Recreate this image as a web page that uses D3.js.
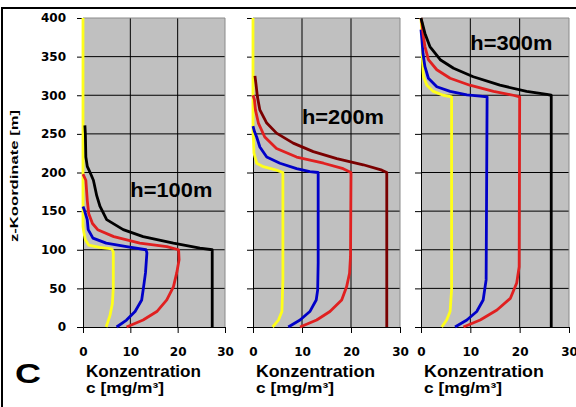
<!DOCTYPE html>
<html>
<head>
<meta charset="utf-8">
<script src="https://cdn.jsdelivr.net/npm/d3@7"></script>
<style>
  body { margin: 0; background: #fff; }
  svg text { font-family: "Liberation Sans", Arial, sans-serif; font-weight: bold; fill: #000; }
  .tick text { font-family: "DejaVu Sans", sans-serif; font-size: 12px; font-weight: bold; }
</style>
</head>
<body>
<div id="viz"></div>
<script>
// Tick labels
const zTicks = [0, 50, 100, 150, 200, 250, 300, 350, 400];
const cTicks = [0, 10, 20, 30];

// Panel labels (stack height) and where they sit, in data units
const hLabels = ["h=100m", "h=200m", "h=300m"];
const hLabelC = [10, 10, 10];
const hLabelZ = [168, 263, 358];

// Profiles as [c (mg/m3), z (m)]
// h = 100 m
const yellow100 = [[4.9,0],[5.7,15],[6.2,30],[6.4,50],[6.4,97],[6.1,101],[3.5,103],[1.2,106],[0.5,113],[0.2,122],[0,130],[0,400]];
const blue100 = [[7.1,0],[9.2,9],[11,20],[12.4,35],[12.8,52],[13.2,70],[13.5,96],[13.3,100],[9.2,104],[4.9,108.5],[2.1,115],[1.1,126],[0.9,139],[0.3,151],[0,156]];
const red100 = [[9.2,0],[12.7,9],[15.6,20],[17.7,35],[19.1,52],[19.8,70],[20.3,87],[20.2,100],[17.7,104],[12,108.5],[6.5,117],[3.1,126],[2,134],[1.2,147],[0.9,164],[0.6,190],[0,198]];
const black100 = [[27.3,0],[27.3,100],[24.7,102],[19.1,108.5],[12.7,117],[8.5,126],[5,139],[3.6,156],[2.9,170],[2.2,190],[1.5,200],[0.9,208],[0.6,220],[0.5,250],[0.4,261]];
// h = 200 m
const yellow200 = [[4,0],[5.2,9],[5.9,20],[6.1,61],[6.1,200],[4.8,203],[2.1,207.5],[0.75,212],[0.2,225],[0.1,242],[0,250],[0,400]];
const blue200 = [[7.2,0],[9.6,9],[11.6,20],[12.9,35],[13.2,48],[13.3,83],[13.3,200],[11.6,201],[8.9,205],[5.5,212],[2.8,220],[1.4,233],[0.75,246],[0.3,253],[0,260]];
const red200 = [[9.6,0],[13,9],[15.7,20],[18.1,35],[19.1,52],[19.7,69.5],[19.9,91],[20,200],[18.4,205],[14.4,212],[8.9,220],[4.8,231],[2.4,246],[1.1,264],[0.5,281],[0.3,294],[0,300]];
const darkred200 = [[27.3,0],[27.3,200],[26.3,203],[22.5,210],[17.1,218],[12.3,227],[8.2,238],[4.8,251],[2.8,264],[1.4,281],[0.9,298],[0.6,315],[0.4,325]];
// h = 300 m
const yellow300 = [[4.2,0],[5.2,9],[5.9,20],[6.2,48],[6.2,298],[4.5,300],[2.5,305],[1.2,313],[0.5,324],[0.3,346],[0.2,380],[0,400]];
const blue300 = [[6.9,0],[9.3,9],[11.3,20],[12.6,35],[13.2,61],[13.4,298],[12,299],[9.3,300.5],[5.9,305],[3.2,311],[1.5,322],[0.8,337],[0.4,354],[0.2,371],[0,385]];
const red300 = [[8.6,0],[12,9],[15.4,22],[18.1,37],[19.4,57],[19.9,78],[20,298],[18.7,300],[14.7,305],[9.9,313],[5.9,322],[3.2,333],[1.5,346],[0.8,363],[0.4,380],[0.2,393],[0,400]];
const black300 = [[26.4,0],[26.4,300],[25.5,301],[21.4,305],[16,313],[10.6,324],[6.6,335],[3.9,346],[1.8,363],[0.8,380],[0.2,395],[0,400]];

// Geometry
const width = 576;
const height = 407;
const plotTop = 18;
const plotBottom = 327;
const panelX = [[83, 225], [253, 400], [421, 569]];

const cYellow = "#ffff1a", cBlue = "#0000c8", cRed = "#e02020", cBlack = "#000", cDark = "#7a0000";
const panels = [
  {series: [[yellow100, cYellow], [blue100, cBlue], [red100, cRed], [black100, cBlack]]},
  {series: [[yellow200, cYellow], [blue200, cBlue], [red200, cRed], [darkred200, cDark]]},
  {series: [[yellow300, cYellow], [blue300, cBlue], [red300, cRed], [black300, cBlack]]}
];

const svg = d3.select("#viz").append("svg")
  .attr("width", width)
  .attr("height", height);

// outer frame (only top and left show in the crop)
svg.append("path")
  .attr("d", "M2," + height + "V8H" + width)
  .attr("fill", "none")
  .attr("stroke", "#000")
  .attr("stroke-width", 2);

const yScale = d3.scaleLinear().domain([0, 400]).range([plotBottom, plotTop]);

panels.forEach((p, i) => {
  const xScale = d3.scaleLinear().domain([0, 30]).range(panelX[i]);
  const g = svg.append("g");

  g.append("rect")
    .attr("x", xScale(0)).attr("y", yScale(400))
    .attr("width", xScale(30) - xScale(0))
    .attr("height", yScale(0) - yScale(400))
    .attr("fill", "#c0c0c0");

  // grid
  g.selectAll(".hgrid").data(zTicks.filter(d => d > 0 && d < 400))
    .enter().append("line")
    .attr("x1", xScale(0)).attr("x2", xScale(30))
    .attr("y1", d => yScale(d)).attr("y2", d => yScale(d))
    .attr("stroke", "#000").attr("stroke-width", 1);
  g.selectAll(".vgrid").data(cTicks.filter(d => d > 0 && d < 30))
    .enter().append("line")
    .attr("x1", d => xScale(d)).attr("x2", d => xScale(d))
    .attr("y1", yScale(0)).attr("y2", yScale(400))
    .attr("stroke", "#000").attr("stroke-width", 1);

  // grey top and right edge
  g.append("path")
    .attr("d", "M" + xScale(0) + "," + yScale(400) + "H" + xScale(30) + "V" + yScale(0))
    .attr("fill", "none").attr("stroke", "#8a8a8a").attr("stroke-width", 1);

  // axes
  g.append("g")
    .attr("transform", "translate(0," + plotBottom + ")")
    .call(d3.axisBottom(xScale).tickValues(cTicks).tickSize(6).tickSizeOuter(0).tickPadding(14));
  g.append("g")
    .attr("transform", "translate(" + panelX[i][0] + ",0)")
    .call(d3.axisLeft(yScale).tickValues(zTicks).tickSize(6).tickSizeOuter(0).tickPadding(11)
      .tickFormat(i === 0 ? d => d : () => ""));

  // profiles
  const line = d3.line()
    .x(d => xScale(d[0]))
    .y(d => yScale(d[1]));
  p.series.forEach(s => {
    g.append("path")
      .attr("d", line(s[0]))
      .attr("fill", "none")
      .attr("stroke", s[1])
      .attr("stroke-width", 2.8)
      .attr("stroke-linejoin", "round");
  });

  // h label
  g.append("text")
    .attr("x", xScale(hLabelC[i]))
    .attr("y", yScale(hLabelZ[i]))
    .attr("font-size", 20)
    .attr("textLength", 82)
    .attr("lengthAdjust", "spacingAndGlyphs")
    .text(hLabels[i]);

  // x axis title
  const w = xScale(30) - xScale(0);
  g.append("text")
    .attr("x", xScale(0) + 3).attr("y", 377)
    .attr("font-size", 16)
    .attr("textLength", w * 0.81)
    .attr("lengthAdjust", "spacingAndGlyphs")
    .text("Konzentration");
  g.append("text")
    .attr("x", xScale(0) + 3).attr("y", 393)
    .attr("font-size", 14.5)
    .attr("textLength", 78)
    .attr("lengthAdjust", "spacingAndGlyphs")
    .text("c [mg/m³]");
});

svg.selectAll(".domain").attr("stroke", "#000");
svg.selectAll(".tick line").attr("stroke", "#000");

// y axis title
svg.append("text")
  .attr("transform", "translate(18,176) rotate(-90)")
  .attr("text-anchor", "middle")
  .attr("font-size", 11)
  .attr("textLength", 132)
  .attr("lengthAdjust", "spacingAndGlyphs")
  .text("z-Koordinate [m]");

// panel letter
svg.append("text")
  .attr("x", 15).attr("y", 383)
  .attr("font-size", 27)
  .attr("textLength", 26)
  .attr("lengthAdjust", "spacingAndGlyphs")
  .text("C");
</script>
</body>
</html>
